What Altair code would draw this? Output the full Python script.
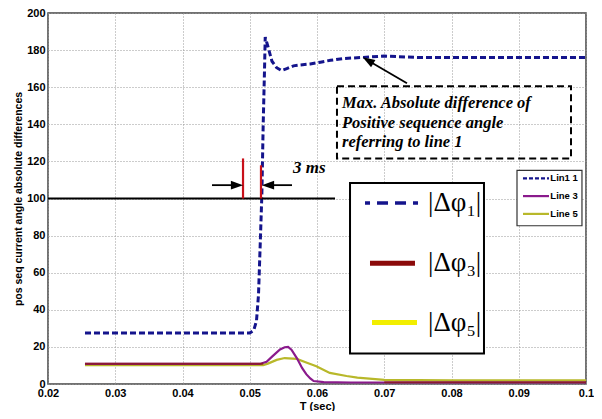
import altair as alt
import pandas as pd

# ---- data ----
t1 = [0.0255, 0.0500, 0.0506, 0.0510, 0.0513, 0.0516, 0.0518, 0.0520, 0.0522, 0.0523,
      0.0527, 0.0533, 0.0540, 0.0547, 0.0555, 0.0565, 0.0575, 0.0590, 0.0605, 0.0620,
      0.0640, 0.0665, 0.0700, 0.0750, 0.0800, 0.0900, 0.1000]
v1 = [27.5, 27.5, 29, 34, 48, 80, 102, 140, 170, 187,
      182, 174, 170.5, 169, 170, 171.5, 172, 172.5, 173.5, 174.5,
      175.5, 176, 176.8, 176, 176, 176, 176]

t3 = [0.0255, 0.0515, 0.0525, 0.0534, 0.0545, 0.0552, 0.0557, 0.0562, 0.0570, 0.0578,
      0.0584, 0.0590, 0.0595, 0.0610, 0.0650, 0.0700, 0.0800, 0.0900, 0.1000]
v3 = [10.8, 10.8, 12, 15, 18.6, 19.8, 20, 18.5, 14, 8.5,
      5.3, 3, 1.6, 1, 0.8, 0.8, 0.8, 0.8, 0.8]

t5 = [0.0255, 0.0520, 0.0527, 0.0540, 0.0552, 0.0570, 0.0585, 0.0599, 0.0619, 0.0644,
      0.0660, 0.0700, 0.0800, 0.0900, 0.1000]
v5 = [10.2, 10.2, 11, 13, 14, 13.5, 11.5, 9.6, 6, 4.3,
      3.4, 2.2, 2, 2, 2]

# dark red overlay traces (visible in flat part and the tail)
tr = [0.0255, 0.0520, 0.0700, 0.1000]
vr = [10.9, 10.9, 0.9, 0.9]
seg_r = [0, 0, 1, 1]

x_ticks = [0.02, 0.03, 0.04, 0.05, 0.06, 0.07, 0.08, 0.09, 0.1]
y_ticks = [0, 20, 40, 60, 80, 100, 120, 140, 160, 180, 200]

NAVY = "#14148c"
PURPLE = "#8a1a8c"
OLIVE = "#b8b82a"
DARKRED = "#8b1a1a"

df1 = pd.DataFrame({"t": t1, "v": v1})
df3 = pd.DataFrame({"t": t3, "v": v3})
df5 = pd.DataFrame({"t": t5, "v": v5})
dfr = pd.DataFrame({"t": tr, "v": vr, "seg": seg_r})

xs = alt.Scale(domain=[0.02, 0.1], nice=False, zero=False)
ys = alt.Scale(domain=[0, 200], nice=False)

XAX = alt.Axis(values=x_ticks, tickCount=20, title="T (sec)", labelOverlap=False,
               labelExpr="datum.value >= 0.0999 ? '0.1' : format(datum.value, '.2f')")
YAX = alt.Axis(values=y_ticks, tickCount=20, labelOverlap=False,
               title="pos seq current angle absolute differences")


def X():
    return alt.X("t:Q", scale=xs, axis=XAX)


def Y():
    return alt.Y("v:Q", scale=ys, axis=YAX)


line5 = alt.Chart(df5).mark_line(color=OLIVE, strokeWidth=2.2).encode(x=X(), y=Y())
line3 = alt.Chart(df3).mark_line(color=PURPLE, strokeWidth=2.2).encode(x=X(), y=Y())
liner = alt.Chart(dfr).mark_line(color=DARKRED, strokeWidth=2, opacity=0.8).encode(
    x=X(), y=Y(), detail="seg:N")
line1 = alt.Chart(df1).mark_line(color=NAVY, strokeWidth=3, strokeDash=[6, 3]).encode(
    x=X(), y=Y())


# ---- annotations (in data units) ----
def seg(t_a, v_a, t_b, v_b, **kw):
    d = pd.DataFrame({"t": [t_a], "v": [v_a], "t2": [t_b], "v2": [v_b]})
    return alt.Chart(d).mark_rule(**kw).encode(x=X(), y=Y(), x2="t2:Q", y2="v2:Q")


def txt(t, v, s, **kw):
    d = pd.DataFrame({"t": [t], "v": [v], "s": [s]})
    return alt.Chart(d).mark_text(**kw).encode(x=X(), y=Y(), text="s:N")


def head(t, v, angle):
    d = pd.DataFrame({"t": [t], "v": [v]})
    return alt.Chart(d).mark_point(shape="M0,-1 L0.7,1 L-0.7,1 Z", filled=True, color="black",
                                   size=150, angle=angle, opacity=1).encode(x=X(), y=Y())


def rect(t_a, t_b, v_a, v_b, **kw):
    d = pd.DataFrame({"t": [t_a], "t2": [t_b], "v": [v_a], "v2": [v_b]})
    return alt.Chart(d).mark_rect(**kw).encode(x=X(), x2="t2:Q", y=Y(), y2="v2:Q")


hline = seg(0.02, 100, 0.06268, 100, color="black", strokeWidth=2)
red1 = seg(0.0490, 100, 0.0490, 121.6, color="#c8101a", strokeWidth=2.2)
red2 = seg(0.05167, 100, 0.05167, 117.9, color="#c8101a", strokeWidth=2.2)
sh_l = seg(0.04439, 107.2, 0.04736, 107.2, color="black", strokeWidth=1.8)
sh_r = seg(0.05628, 107.2, 0.05346, 107.2, color="black", strokeWidth=1.8)
hd_l = head(0.0481, 107.2, 90)
hd_r = head(0.05271, 107.2, 270)
ms = txt(0.05643, 113.6, "3 ms", align="left", baseline="alphabetic", font="Liberation Serif",
         fontSize=17, fontStyle="italic", fontWeight="bold", color="black")

dbox = rect(0.06297, 0.09777, 160.5, 121.6, fill="white", fillOpacity=0, stroke="black",
            strokeWidth=2, strokeDash=[7, 4])
note_lines = ["Max. Absolute difference of", "Positive sequence angle", "referring to line 1"]
note_v = [148.8, 138.1, 127.5]
notes = alt.Chart(pd.DataFrame({"t": [0.06372] * 3, "v": note_v, "s": note_lines})).mark_text(
    align="left", baseline="alphabetic", font="Liberation Serif", fontSize=16.5,
    fontStyle="italic", fontWeight="bold", color="black").encode(x=X(), y=Y(), text="s:N")
ptr = seg(0.07338, 162.1, 0.06758, 174.4, color="black", strokeWidth=1.8)
ptr_h = head(0.06758, 174.4, 300.6)

lbox = rect(0.06491, 0.08483, 108.3, 16.5, fill="white", stroke="black", strokeWidth=2)
lg1 = seg(0.06714, 97.6, 0.07532, 97.6, color=NAVY, strokeWidth=3.5, strokeDash=[5, 7, 11, 7, 11, 7])
lg3 = seg(0.06788, 65.1, 0.07457, 65.1, color="#8b0a0a", strokeWidth=5)
lg5 = seg(0.06818, 33.1, 0.07487, 33.1, color="#f2ee00", strokeWidth=5)
big_lab = alt.Chart(pd.DataFrame({"t": [0.07651] * 3, "v": [97.6, 65.1, 33.1],
                                  "s": ["|Δφ₁|", "|Δφ₃|", "|Δφ₅|"]})).mark_text(
    align="left", baseline="middle", font="Liberation Serif", fontSize=27, color="black").encode(
    x=X(), y=Y(), text="s:N")

mbox = rect(0.08974, 0.0994, 115.2, 85.3, fill="white", stroke="#333", strokeWidth=1.2)
ml1 = seg(0.09063, 110.9, 0.0945, 110.9, color=NAVY, strokeWidth=2.2, strokeDash=[4, 2])
ml3 = seg(0.09063, 101.3, 0.0945, 101.3, color=PURPLE, strokeWidth=2.2)
ml5 = seg(0.09063, 91.7, 0.0945, 91.7, color=OLIVE, strokeWidth=2.2)
m_lab = alt.Chart(pd.DataFrame({"t": [0.0947] * 3, "v": [110.9, 101.3, 91.7],
                                "s": ["Lin1 1", "Line 3", "Line 5"]})).mark_text(
    align="left", baseline="middle", font="Liberation Sans", fontSize=9.5,
    fontWeight="bold", color="black").encode(x=X(), y=Y(), text="s:N")

chart = alt.layer(
    line5, line3, liner, line1,
    hline, red1, red2, sh_l, sh_r, hd_l, hd_r, ms,
    dbox, notes, ptr, ptr_h,
    lbox, lg1, lg3, lg5, big_lab,
    mbox, ml1, ml3, ml5, m_lab,
).properties(
    width=538, height=371,
    autosize=alt.AutoSizeParams(type="none"),
    padding={"left": 40, "top": 5, "right": 8, "bottom": 27},
).configure_view(
    stroke="#444", strokeWidth=1.5
).configure_axis(
    labelFont="Liberation Sans", labelFontSize=11, labelFontWeight="bold", labelColor="black",
    titleFont="Liberation Sans", titleFontWeight="bold", titleColor="black",
    grid=True, gridColor="#999", gridDash=[1, 2], gridWidth=1,
    domain=False, ticks=False, labelPadding=3, labelOverlap=False,
).configure_axisY(
    titleFontSize=10.5, titlePadding=3,
).configure_axisX(
    titleFontSize=11, titlePadding=2, labelFlush=False,
)

chart.save("out.html", embed_options={"renderer": "svg", "actions": False})
